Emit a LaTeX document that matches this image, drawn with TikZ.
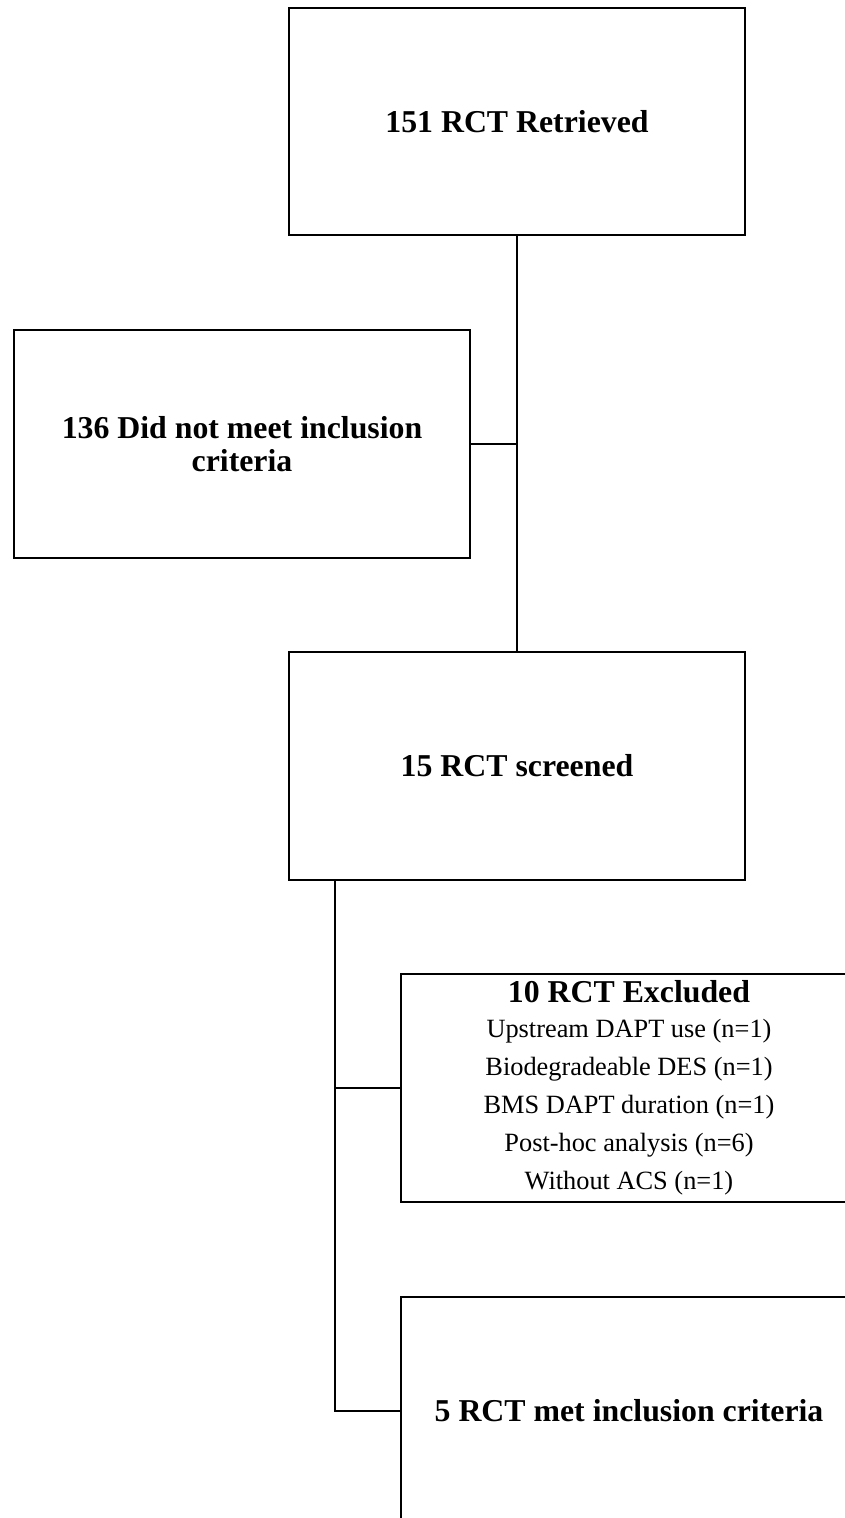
\documentclass[tikz,border=0pt]{standalone}
\usepackage{fontspec}
\setmainfont{Liberation Serif}
\begin{document}
\begin{tikzpicture}[draw = black,
  flowbox/.style = {draw, line width = 0.95pt, minimum width = 9.12cm, minimum height = 4.55cm, inner sep = 0pt, align = center},
  boldtext/.style = {font = \fontsize{18.1}{18.4}\selectfont\bfseries},
  plaintext/.style = {font = \fontsize{15}{21.6}\selectfont},
  link/.style = {line width = 0.8pt}]
\path[use as bounding box, clip] (0,0) rectangle (16.9,-30.36);
\node[flowbox, boldtext] (retrieved) at (10.34,-2.43) {151 RCT Retrieved};
\node[flowbox, boldtext] (notmet) at (4.84,-8.88) {136 Did not meet inclusion\\criteria};
\node[flowbox, boldtext] (screened) at (10.34,-15.32) {15 RCT screened};
\node[flowbox, plaintext] (excluded) at (12.58,-21.76) {{\fontsize{18.1}{21.6}\selectfont\bfseries 10 RCT Excluded}\\[-0.06cm]
  Upstream DAPT use (n=1)\\
  Biodegradeable DES (n=1)\\
  BMS DAPT duration (n=1)\\
  Post-hoc analysis (n=6)\\
  Without ACS (n=1)};
\node[flowbox, boldtext] (included) at (12.58,-28.22) {5 RCT met inclusion criteria};
\coordinate (branch) at (6.7,-15.32);
\draw[link] (retrieved) -- (screened);
\draw[link] (notmet) -- (notmet -| retrieved);
\draw[link] (branch |- screened.south) |- (included);
\draw[link] (branch |- excluded) -- (excluded);
\end{tikzpicture}
\end{document}
